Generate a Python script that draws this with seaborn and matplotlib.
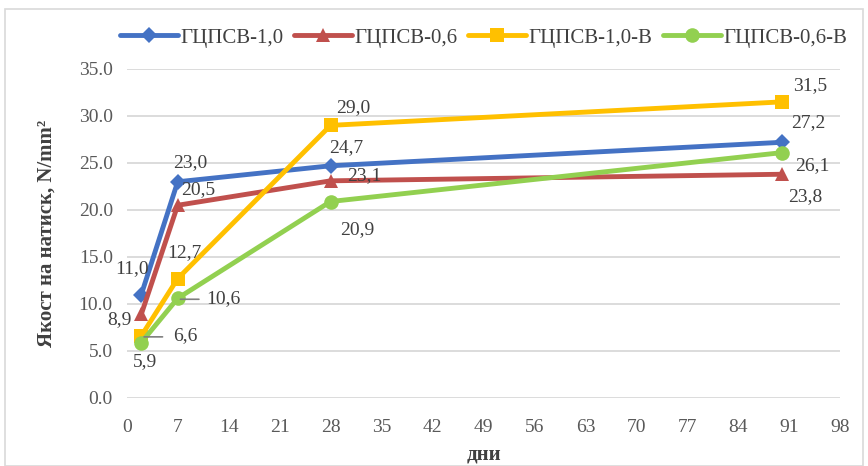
import matplotlib
matplotlib.use("Agg")
import matplotlib.pyplot as plt
import seaborn as sns
import pandas as pd
from matplotlib.patches import Rectangle

days = [2, 7, 28, 90]
series_names = ["ГЦПСВ-1,0", "ГЦПСВ-0,6", "ГЦПСВ-1,0-В", "ГЦПСВ-0,6-В"]
s_10 = [11.0, 23.0, 24.7, 27.2]
s_06 = [8.9, 20.5, 23.1, 23.8]
s_10b = [6.6, 12.7, 29.0, 31.5]
s_06b = [5.9, 10.6, 20.9, 26.1]
x_ticks = list(range(0, 99, 7))
y_ticks = [0, 5, 10, 15, 20, 25, 30, 35]

values = [s_10, s_06, s_10b, s_06b]
colors = ["#4472C4", "#C0504D", "#FFC000", "#92D050"]
markers = ["D", "^", "s", "o"]
msizes = [8.5, 10, 10.5, 10.5]

rows = []
for name, vals in zip(series_names, values):
    for d, v in zip(days, vals):
        rows.append({"day": d, "value": v, "series": name})
df = pd.DataFrame(rows)

sns.set_theme(style="white")
plt.rcParams["font.family"] = ["Liberation Serif", "DejaVu Serif"]

fig = plt.figure(figsize=(8.68, 4.66), dpi=100)
ax = fig.add_axes([0.146, 0.146, 0.822, 0.706])

for name, c, m, ms in zip(series_names, colors, markers, msizes):
    sub = df[df["series"] == name]
    sns.lineplot(data=sub, x="day", y="value", ax=ax, color=c, lw=3.5,
                 marker=m, markersize=ms, markeredgewidth=0, label=name,
                 errorbar=None, sort=False)

# data labels offsets (points)
offsets = [
    [(-7, 19), (9, 14), (11, 13), (19, 14)],
    [(-16, -4), (15, 11), (24, 4), (17, -16)],
    [(32, 0), (5, 19), (16, 13), (20, 12)],
    [(3, -14), (33, 0), (19, -20), (22, -9)],
]
for vals, offs in zip(values, offsets):
    for d, v, (ox, oy) in zip(days, vals, offs):
        ax.annotate(f"{v:.1f}".replace(".", ","), (d, v), xytext=(ox, oy),
                    textcoords="offset points", ha="center", va="center",
                    fontsize=14, color="#404040")
# leader lines for 6,6 and 10,6
for d, v in [(days[0], s_10b[0]), (days[1], s_06b[1])]:
    ax.annotate("", (d, v - 0.1), xytext=(d + 3.3, v - 0.1),
                arrowprops=dict(arrowstyle="-", color="#7f7f7f", lw=1.2))

ax.set_xlim(0, 98)
ax.set_ylim(0, 35)
ax.set_xticks(x_ticks)
ax.set_yticks(y_ticks)
ax.set_yticklabels([f"{t:.1f}" for t in y_ticks])
ax.tick_params(axis="both", labelsize=14, colors="#595959", length=0)
ax.tick_params(axis="y", pad=10)
ax.tick_params(axis="x", pad=15)
ax.yaxis.grid(True, color="#d9d9d9", lw=1.3)
ax.xaxis.grid(False)
for s in ax.spines.values():
    s.set_visible(False)

ax.set_xlabel("дни", fontsize=15, fontweight="bold", color="#404040", labelpad=6)
ax.set_ylabel("Якост на натиск, N/mm²", fontsize=15, fontweight="bold",
              color="#404040", labelpad=16)

leg = ax.legend(loc="center", bbox_to_anchor=(0.5, 1.095), ncol=4, frameon=False,
                fontsize=15, handlelength=2.8, handletextpad=0.1, columnspacing=0.5,
                labelcolor="#404040")

fig.patches.append(Rectangle((0.006, 0.0), 0.988, 0.98, transform=fig.transFigure,
                             fill=False, edgecolor="#d9d9d9", lw=1.2))

fig.savefig("out.png", dpi=100)
